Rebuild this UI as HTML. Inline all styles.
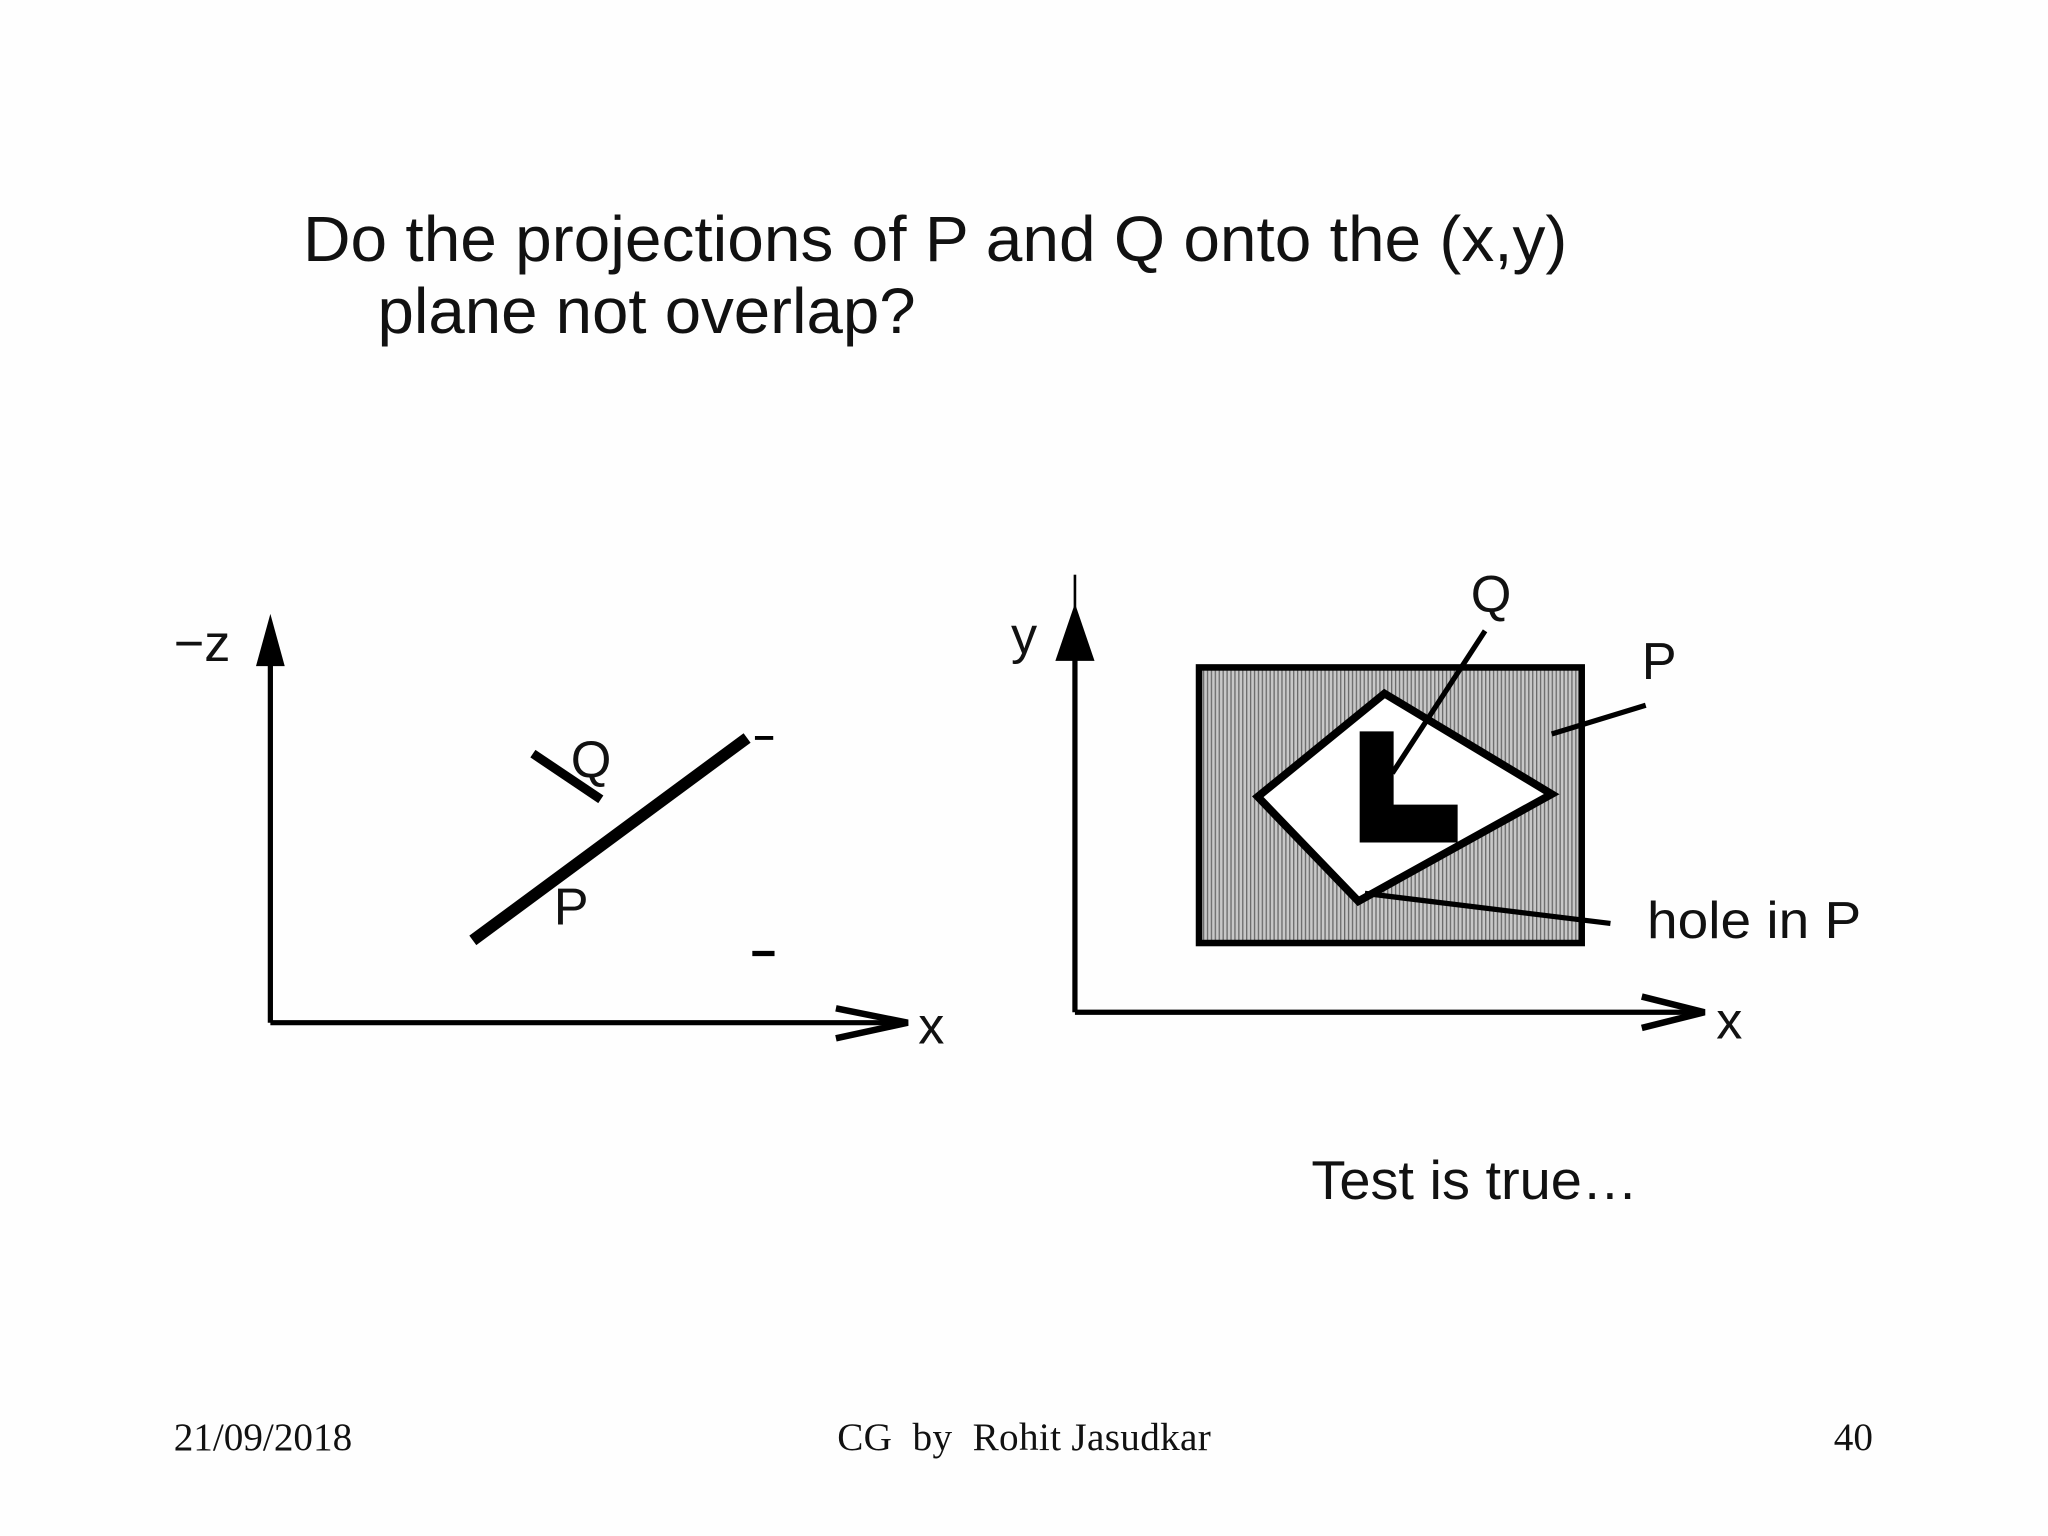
<!DOCTYPE html>
<html><head><meta charset="utf-8"><style>
html,body{margin:0;padding:0;background:#fff;}
svg{display:block}
</style></head><body>
<svg width="2048" height="1536" viewBox="0 0 1568 1176" xmlns="http://www.w3.org/2000/svg">
<defs>
<pattern id="pat" width="3" height="3" patternUnits="userSpaceOnUse">
<rect width="3" height="3" fill="#c8c8c8"/>
<rect width="1" height="3" fill="#6a6a6a"/>
</pattern>
</defs>
<rect width="1568" height="1176" fill="#fefefe"/>
<g font-family="Liberation Sans, sans-serif" fill="#111">
<text x="232" y="200" font-size="49" textLength="968" lengthAdjust="spacingAndGlyphs">Do the projections of P and Q onto the (x,y)</text>
<text x="289" y="255" font-size="49" textLength="412" lengthAdjust="spacingAndGlyphs">plane not overlap?</text>
</g>
<!-- left diagram -->
<g stroke="#000" fill="none">
<line x1="207" y1="783" x2="207" y2="500" stroke-width="4"/>
<line x1="207" y1="783" x2="695" y2="783" stroke-width="4"/>
<polyline points="640,772 695,783 640,795" stroke-width="5"/>
<line x1="362" y1="720" x2="572" y2="565" stroke-width="9"/>
<line x1="408" y1="577" x2="460" y2="612" stroke-width="7"/>
<line x1="578" y1="565" x2="592" y2="565" stroke-width="3"/>
<line x1="576" y1="730" x2="593" y2="730" stroke-width="4"/>
</g>
<polygon points="207,470 196,510 218,510" fill="#000"/>
<g font-family="Liberation Sans, sans-serif" fill="#111" font-size="40">
<text x="133" y="506">−z</text>
<text x="703" y="799">x</text>
<text x="437" y="595">Q</text>
<text x="424" y="708">P</text>
</g>
<!-- right diagram -->
<g stroke="#000" fill="none">
<line x1="823" y1="775" x2="823" y2="500" stroke-width="4"/>
<line x1="823" y1="775" x2="1300" y2="775" stroke-width="4"/>
<polyline points="1257,763 1305,775 1257,787" stroke-width="5"/>
<line x1="823" y1="440" x2="823" y2="470" stroke-width="2"/>
</g>
<polygon points="823,462 808,506 838,506" fill="#000"/>
<rect x="918" y="511" width="293" height="211" fill="url(#pat)" stroke="#000" stroke-width="5"/>
<polygon points="1060,531 1188,608 1040,690 963,610" fill="#fff" stroke="#000" stroke-width="6" stroke-linejoin="miter"/>
<polygon points="1041,560 1067,560 1067,616 1116,616 1116,645 1041,645" fill="#000"/>
<g stroke="#000" stroke-width="4">
<line x1="1137" y1="483" x2="1066" y2="592"/>
<line x1="1260" y1="540" x2="1188" y2="562"/>
<line x1="1233" y1="707" x2="1045" y2="684"/>
</g>
<g font-family="Liberation Sans, sans-serif" fill="#111" font-size="40">
<text x="774" y="500">y</text>
<text x="1314" y="795">x</text>
<text x="1126" y="468">Q</text>
<text x="1257" y="520">P</text>
<text x="1261" y="718" textLength="164" lengthAdjust="spacingAndGlyphs">hole in P</text>
<text x="1004" y="918" font-size="42" textLength="250" lengthAdjust="spacingAndGlyphs">Test is true…</text>
</g>
<g font-family="Liberation Serif, serif" fill="#111" font-size="30">
<text x="133" y="1110">21/09/2018</text>
<text x="641" y="1110" xml:space="preserve" textLength="286" lengthAdjust="spacing">CG  by  Rohit Jasudkar</text>
<text x="1404" y="1110">40</text>
</g>
</svg>
</body></html>
